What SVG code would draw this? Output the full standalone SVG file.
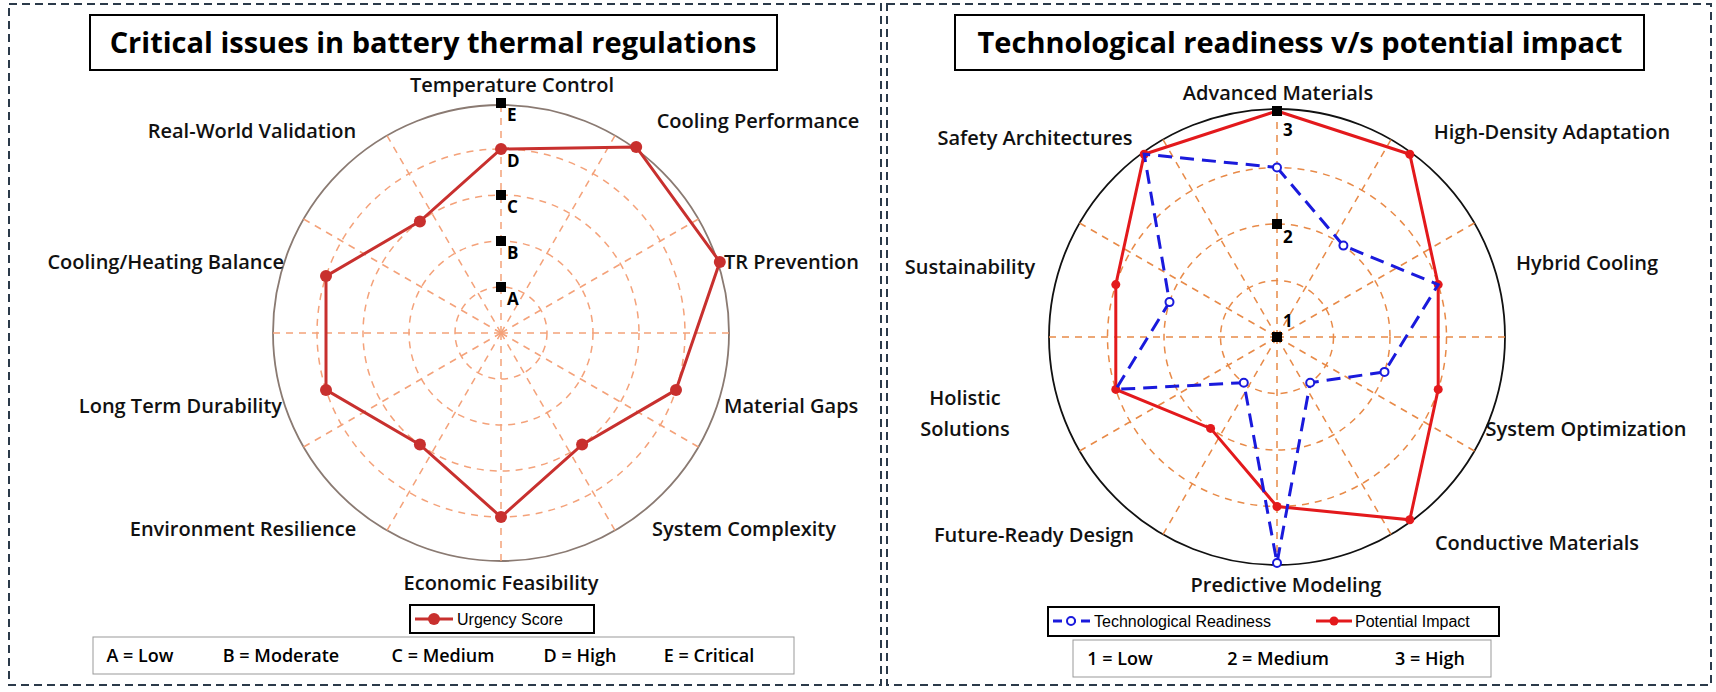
<svg xmlns="http://www.w3.org/2000/svg" width="1716" height="692" viewBox="0 0 1716 692">
<style>
.frame{fill:none;stroke:#2b3a4a;stroke-width:2;stroke-dasharray:8 5}
.box{fill:#fff;stroke:#000;stroke-width:2}
.title{font-family:"Open Sans",sans-serif;font-weight:700;font-size:29px;text-anchor:middle;fill:#000}
.lbl{font-family:"Open Sans",sans-serif;font-weight:600;font-size:20px;fill:#111}
.mid{text-anchor:middle}
.end{text-anchor:end}
.g1{fill:none;stroke:#f4a27a;stroke-width:1.5;stroke-dasharray:7 6}
.g2{fill:none;stroke:#e88a48;stroke-width:1.5;stroke-dasharray:7 6}
.sq{fill:#000}
.mk{font-family:"Open Sans",sans-serif;font-weight:700;font-size:17px;fill:#000}
.leg{font-family:"Liberation Sans",sans-serif;font-size:16px;fill:#000}
.key{font-family:"Open Sans",sans-serif;font-weight:600;font-size:18px;fill:#000;text-anchor:middle}
</style>
<rect class="frame" x="9" y="4" width="872" height="681"/>
<rect class="frame" x="887" y="4" width="824" height="681"/>

<g id="left-title"><rect class="box" x="90" y="15" width="687" height="55"/><text class="title" x="433" y="53">Critical issues in battery thermal regulations</text></g>
<g id="right-title"><rect class="box" x="955" y="15" width="689" height="55"/><text class="title" x="1300" y="53">Technological readiness v/s potential impact</text></g>

<g id="left-grid" transform="translate(501,333)">
<circle r="228" fill="none" stroke="#8a7a72" stroke-width="1.8"/>
<circle class="g1" r="46"/><circle class="g1" r="92"/><circle class="g1" r="138"/><circle class="g1" r="184"/>
<g class="g1">
<line x2="0" y2="-228"/><line x2="0" y2="-228" transform="rotate(30)"/><line x2="0" y2="-228" transform="rotate(60)"/><line x2="0" y2="-228" transform="rotate(90)"/><line x2="0" y2="-228" transform="rotate(120)"/><line x2="0" y2="-228" transform="rotate(150)"/><line x2="0" y2="-228" transform="rotate(180)"/><line x2="0" y2="-228" transform="rotate(210)"/><line x2="0" y2="-228" transform="rotate(240)"/><line x2="0" y2="-228" transform="rotate(270)"/><line x2="0" y2="-228" transform="rotate(300)"/><line x2="0" y2="-228" transform="rotate(330)"/>
</g>
</g>
<g id="left-data">
<polygon points="501,149 636.2,146.9 719.8,261.9 676,389.9 582.1,444.6 501,517 419.9,444.6 326,389.9 326,276.1 419.9,221.4" fill="none" stroke="#c8302e" stroke-width="3"/>
<g fill="#c8302e"><circle cx="501" cy="149" r="6"/><circle cx="636.2" cy="146.9" r="6"/><circle cx="719.8" cy="261.9" r="6"/><circle cx="676" cy="389.9" r="6"/><circle cx="582.1" cy="444.6" r="6"/><circle cx="501" cy="517" r="6"/><circle cx="419.9" cy="444.6" r="6"/><circle cx="326" cy="389.9" r="6"/><circle cx="326" cy="276.1" r="6"/><circle cx="419.9" cy="221.4" r="6"/></g>
<g class="sq"><rect x="496" y="282" width="10" height="10"/><rect x="496" y="236" width="10" height="10"/><rect x="496" y="190" width="10" height="10"/><rect x="496" y="98" width="10" height="10"/></g>
<text class="mk" x="507" y="305">A</text><text class="mk" x="507" y="259">B</text><text class="mk" x="507" y="213">C</text><text class="mk" x="507" y="167">D</text><text class="mk" x="507" y="121">E</text>
</g>
<g id="left-labels">
<text class="lbl mid" x="512" y="92">Temperature Control</text>
<text class="lbl mid" x="758" y="128">Cooling Performance</text>
<text class="lbl mid" x="252" y="138">Real-World Validation</text>
<text class="lbl" x="724" y="269">TR Prevention</text>
<text class="lbl end" x="284" y="269">Cooling/Heating Balance</text>
<text class="lbl" x="724" y="413">Material Gaps</text>
<text class="lbl end" x="282" y="413">Long Term Durability</text>
<text class="lbl mid" x="744" y="536">System Complexity</text>
<text class="lbl mid" x="243" y="536">Environment Resilience</text>
<text class="lbl mid" x="501" y="590">Economic Feasibility</text>
</g>
<g id="left-legend">
<rect class="box" x="410" y="605" width="184" height="28" stroke-width="1.5"/>
<line x1="415" y1="619" x2="453" y2="619" stroke="#c8302e" stroke-width="3"/><circle cx="434" cy="619" r="6" fill="#c8302e"/>
<text class="leg" x="457" y="625">Urgency Score</text>
</g>
<g id="left-key">
<rect x="93" y="637" width="701" height="37" fill="#fff" stroke="#999" stroke-width="1"/>
<text class="key" x="140" y="662">A = Low</text><text class="key" x="281" y="662">B = Moderate</text><text class="key" x="443" y="662">C = Medium</text><text class="key" x="580" y="662">D = High</text><text class="key" x="709" y="662">E = Critical</text>
</g>

<g id="right-grid" transform="translate(1277,337)">
<circle r="228" fill="none" stroke="#111" stroke-width="1.8"/>
<circle class="g2" r="56.5"/><circle class="g2" r="113"/><circle class="g2" r="169.5"/>
<g class="g2">
<line x2="0" y2="-228"/><line x2="0" y2="-228" transform="rotate(30)"/><line x2="0" y2="-228" transform="rotate(60)"/><line x2="0" y2="-228" transform="rotate(90)"/><line x2="0" y2="-228" transform="rotate(120)"/><line x2="0" y2="-228" transform="rotate(150)"/><line x2="0" y2="-228" transform="rotate(180)"/><line x2="0" y2="-228" transform="rotate(210)"/><line x2="0" y2="-228" transform="rotate(240)"/><line x2="0" y2="-228" transform="rotate(270)"/><line x2="0" y2="-228" transform="rotate(300)"/><line x2="0" y2="-228" transform="rotate(330)"/>
</g>
</g>
<g id="right-data">
<polygon points="1277,111 1409.8,154.2 1438.2,284.6 1438.2,389.4 1409.8,519.8 1277,506.5 1210.6,428.4 1115.8,389.4 1115.8,284.6 1144.2,154.2" fill="none" stroke="#e3191c" stroke-width="3"/>
<g fill="#e3191c"><circle cx="1409.8" cy="154.2" r="4.5"/><circle cx="1438.2" cy="284.6" r="4.5"/><circle cx="1438.2" cy="389.4" r="4.5"/><circle cx="1409.8" cy="519.8" r="4.5"/><circle cx="1277" cy="506.5" r="4.5"/><circle cx="1210.6" cy="428.4" r="4.5"/><circle cx="1115.8" cy="389.4" r="4.5"/><circle cx="1115.8" cy="284.6" r="4.5"/><circle cx="1144.2" cy="154.2" r="4.5"/></g>
<polygon points="1277,167.5 1343.4,245.6 1438.2,284.6 1384.5,371.9 1310.2,382.7 1277,563 1243.8,382.7 1115.8,389.4 1169.5,302.1 1144.2,154.2" fill="none" stroke="#1a1adc" stroke-width="3" stroke-dasharray="14 8"/>
<g fill="#fff" stroke="#1a1adc" stroke-width="2"><circle cx="1277" cy="167.5" r="4"/><circle cx="1343.4" cy="245.6" r="4"/><circle cx="1384.5" cy="371.9" r="4"/><circle cx="1310.2" cy="382.7" r="4"/><circle cx="1277" cy="563" r="4"/><circle cx="1243.8" cy="382.7" r="4"/><circle cx="1169.5" cy="302.1" r="4"/></g>
<g class="sq"><rect x="1272" y="332" width="10" height="10"/><rect x="1272" y="219" width="10" height="10"/><rect x="1272" y="106" width="10" height="10"/></g>
<text class="mk" x="1283" y="327">1</text><text class="mk" x="1283" y="243">2</text><text class="mk" x="1283" y="136">3</text>
</g>
<g id="right-labels">
<text class="lbl mid" x="1278" y="100">Advanced Materials</text>
<text class="lbl mid" x="1552" y="139">High-Density Adaptation</text>
<text class="lbl mid" x="1035" y="145">Safety Architectures</text>
<text class="lbl mid" x="1587" y="270">Hybrid Cooling</text>
<text class="lbl mid" x="970" y="274">Sustainability</text>
<text class="lbl mid" x="965" y="405">Holistic</text>
<text class="lbl mid" x="965" y="436">Solutions</text>
<text class="lbl mid" x="1586" y="436">System Optimization</text>
<text class="lbl mid" x="1537" y="550">Conductive Materials</text>
<text class="lbl mid" x="1034" y="542">Future-Ready Design</text>
<text class="lbl mid" x="1286" y="592">Predictive Modeling</text>
</g>
<g id="right-legend">
<rect class="box" x="1048" y="607" width="451" height="29" stroke-width="1.5"/>
<line x1="1053" y1="621" x2="1090" y2="621" stroke="#1a1adc" stroke-width="3" stroke-dasharray="9 5"/><circle cx="1071" cy="621" r="4" fill="#fff" stroke="#1a1adc" stroke-width="2"/>
<text class="leg" x="1094" y="627">Technological Readiness</text>
<line x1="1316" y1="621" x2="1352" y2="621" stroke="#e3191c" stroke-width="3"/><circle cx="1334" cy="621" r="4.5" fill="#e3191c"/>
<text class="leg" x="1355" y="627">Potential Impact</text>
</g>
<g id="right-key">
<rect x="1073" y="640" width="418" height="37" fill="#fff" stroke="#999" stroke-width="1"/>
<text class="key" x="1120" y="665">1 = Low</text><text class="key" x="1278" y="665">2 = Medium</text><text class="key" x="1430" y="665">3 = High</text>
</g>
</svg>
